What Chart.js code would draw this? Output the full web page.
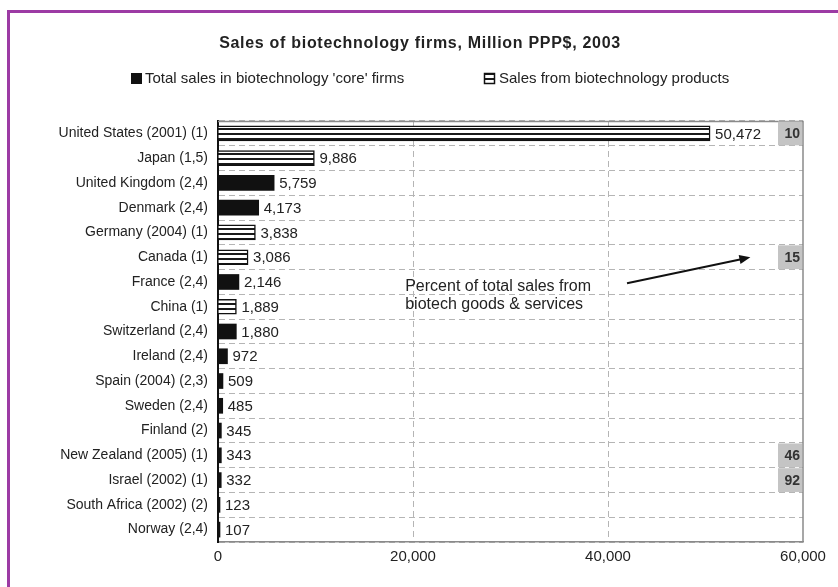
<!DOCTYPE html>
<html>
<head>
<meta charset="utf-8">
<script src="https://cdn.jsdelivr.net/npm/chart.js@4/dist/chart.umd.min.js"></script>
<style>
  html, body { margin: 0; padding: 0; background: #fff; }
  #wrap { position: relative; width: 838px; height: 587px; overflow: hidden; }
  #c { position: absolute; left: 0; top: 0; }
  #frame { position: absolute; left: 7px; top: 10px; width: 840px; height: 600px;
           border-left: 3px solid #9c3ba4; border-top: 3px solid #9c3ba4; pointer-events: none; }
</style>
</head>
<body>
<div id="wrap">
  <canvas id="c" width="838" height="587"></canvas>
  <div id="frame"></div>
</div>
<script>
const chartTitle = 'Sales of biotechnology firms, Million PPP$, 2003';
const seriesNames = ["Total sales in biotechnology 'core' firms", 'Sales from biotechnology products'];
const categories = [
  'United States (2001) (1)', 'Japan (1,5)', 'United Kingdom (2,4)', 'Denmark (2,4)',
  'Germany (2004) (1)', 'Canada (1)', 'France (2,4)', 'China (1)', 'Switzerland (2,4)',
  'Ireland (2,4)', 'Spain (2004) (2,3)', 'Sweden (2,4)', 'Finland (2)',
  'New Zealand (2005) (1)', 'Israel (2002) (1)', 'South Africa (2002) (2)', 'Norway (2,4)'
];
const salesValues = [50472, 9886, 5759, 4173, 3838, 3086, 2146, 1889, 1880, 972, 509, 485, 345, 343, 332, 123, 107];
const salesType = ['products', 'products', 'core', 'core', 'products', 'products', 'core', 'products', 'core',
                   'core', 'core', 'core', 'core', 'core', 'core', 'core', 'core'];
const percentOfTotal = [10, null, null, null, null, 15, null, null, null, null, null, null, null, 46, 92, null, null];
const xTicks = [0, 20000, 40000, 60000];
const annotationLines = ['Percent of total sales from', 'biotech goods & services'];

const FONT = "'Liberation Sans', Arial, Helvetica, sans-serif";
const TEXT = '#222';
const GRID = '#b5b5b5';

function makeStripes() {
  const p = document.createElement('canvas');
  p.width = 8; p.height = 5;
  const g = p.getContext('2d');
  g.fillStyle = '#fff'; g.fillRect(0, 0, 8, 5);
  g.fillStyle = '#1a1a1a'; g.fillRect(0, 3, 8, 2);
  return document.getElementById('c').getContext('2d').createPattern(p, 'repeat');
}
const stripes = makeStripes();

const coreData = salesValues.map((v, i) => salesType[i] === 'core' ? v : null);
const prodData = salesValues.map((v, i) => salesType[i] === 'products' ? v : null);
const fmt = v => v.toLocaleString('en-US');

const overlay = {
  id: 'overlay',
  afterDraw(chart) {
    const ctx = chart.ctx, a = chart.chartArea;
    const xs = chart.scales.x, ys = chart.scales.y;
    ctx.save();
    // plot frame (top & right)
    ctx.strokeStyle = '#8a8a8a'; ctx.lineWidth = 1.5;
    ctx.beginPath();
    ctx.moveTo(a.left, a.top + 0.5); ctx.lineTo(a.right, a.top + 0.5);
    ctx.lineTo(a.right, a.bottom);
    ctx.stroke();

    // value labels
    ctx.font = '15px ' + FONT; ctx.fillStyle = TEXT;
    ctx.textAlign = 'left'; ctx.textBaseline = 'middle';
    chart.data.datasets.forEach((ds, di) => {
      chart.getDatasetMeta(di).data.forEach((el, i) => {
        const v = ds.data[i];
        if (v == null) return;
        ctx.fillText(fmt(v), el.x + 5, el.y + 1);
      });
    });

    // percent boxes
    const half = (ys.getPixelForValue(1) - ys.getPixelForValue(0)) / 2;
    percentOfTotal.forEach((p, i) => {
      if (p == null) return;
      const cy = ys.getPixelForValue(i);
      ctx.fillStyle = '#c4c4c4';
      ctx.fillRect(a.right - 25, cy - half + 0.5, 24, half * 2 - 1);
      ctx.fillStyle = '#333';
      ctx.font = 'bold 14px ' + FONT;
      ctx.textAlign = 'right';
      ctx.fillText(String(p), a.right - 3, cy + 1);
    });

    // annotation
    ctx.font = '16px ' + FONT; ctx.fillStyle = TEXT; ctx.textAlign = 'left';
    const tx = xs.getPixelForValue(19200);
    const ty = ys.getPixelForValue(6.2);
    annotationLines.forEach((t, k) => ctx.fillText(t, tx, ty + k * 18));
    const x1 = xs.getPixelForValue(41950), y1 = ys.getPixelForValue(6.05);
    const x2 = xs.getPixelForValue(54600), y2 = ys.getPixelForValue(5.0);
    ctx.strokeStyle = '#111'; ctx.lineWidth = 2;
    ctx.beginPath(); ctx.moveTo(x1, y1); ctx.lineTo(x2 - 8, y2 + 1.8); ctx.stroke();
    const ang = Math.atan2(y2 - y1, x2 - x1);
    ctx.fillStyle = '#111';
    ctx.beginPath();
    ctx.moveTo(x2, y2);
    ctx.lineTo(x2 - 11 * Math.cos(ang) + 4.5 * Math.sin(ang), y2 - 11 * Math.sin(ang) - 4.5 * Math.cos(ang));
    ctx.lineTo(x2 - 11 * Math.cos(ang) - 4.5 * Math.sin(ang), y2 - 11 * Math.sin(ang) + 4.5 * Math.cos(ang));
    ctx.closePath(); ctx.fill();

    // title
    ctx.font = 'bold 16px ' + FONT; ctx.fillStyle = TEXT; ctx.textAlign = 'center';
    ctx.letterSpacing = '0.7px';
    ctx.fillText(chartTitle, 420, 44);
    ctx.letterSpacing = '0px';

    // legend
    ctx.font = '15px ' + FONT; ctx.textAlign = 'left';
    ctx.fillStyle = '#111'; ctx.fillRect(131, 73, 11, 11);
    ctx.fillStyle = TEXT; ctx.fillText(seriesNames[0], 145, 79);
    ctx.fillStyle = stripes; ctx.fillRect(484, 73, 11, 11);
    ctx.strokeStyle = '#111'; ctx.lineWidth = 1.5; ctx.strokeRect(484.5, 73.5, 10, 10);
    ctx.fillStyle = TEXT; ctx.fillText(seriesNames[1], 499, 79);
    ctx.restore();
  }
};

new Chart(document.getElementById('c'), {
  type: 'bar',
  data: {
    labels: categories,
    datasets: [
      { label: seriesNames[0], data: coreData, backgroundColor: '#111', borderWidth: 0,
        barThickness: 15, minBarLength: 2 },
      { label: seriesNames[1], data: prodData, backgroundColor: stripes, borderColor: '#111',
        borderWidth: 1.5, borderSkipped: 'start', barThickness: 15 }
    ]
  },
  options: {
    indexAxis: 'y',
    responsive: false,
    animation: false,
    locale: 'en-US',
    layout: { padding: { top: 121, right: 35, bottom: 20, left: 0 } },
    plugins: { legend: { display: false }, title: { display: false }, tooltip: { enabled: false } },
    scales: {
      x: {
        stacked: true, min: 0, max: 60000,
        afterBuildTicks: s => { s.ticks = xTicks.map(v => ({ value: v })); },
        afterFit: s => { s.height = 25; },
        ticks: { padding: 6, color: TEXT, font: { family: FONT, size: 15 }, callback: v => fmt(v) },
        grid: {
          drawTicks: false,
          color: c => (c.tick && (c.tick.value === 0 || c.tick.value === 60000)) ? 'rgba(0,0,0,0)' : GRID,
          lineWidth: 1
        },
        border: { display: true, color: '#8a8a8a', width: 1.5, dash: [6, 4] }
      },
      y: {
        stacked: true,
        afterFit: s => { s.width = 218; },
        ticks: { padding: 10, color: TEXT, font: { family: FONT, size: 14 }, autoSkip: false },
        grid: { offset: true, drawTicks: false, color: GRID, lineWidth: 1 },
        border: { display: true, color: '#111', width: 2, dash: [6, 4] }
      }
    }
  },
  plugins: [overlay]
});
</script>
</body>
</html>
